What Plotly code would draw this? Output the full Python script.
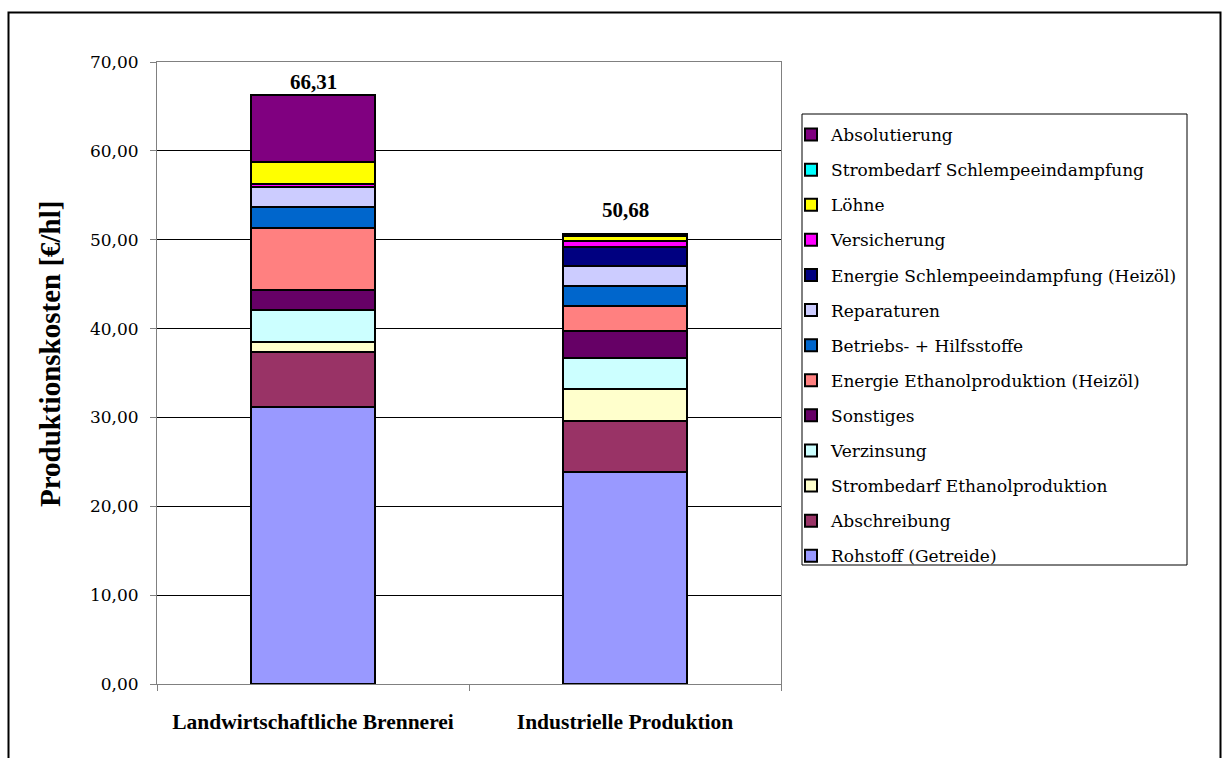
import plotly.graph_objects as go

categories = ["Landwirtschaftliche Brennerei", "Industrielle Produktion"]

# series from bottom of stack to top
series_names = [
    "Rohstoff (Getreide)",
    "Abschreibung",
    "Strombedarf Ethanolproduktion",
    "Verzinsung",
    "Sonstiges",
    "Energie Ethanolproduktion (Heizöl)",
    "Betriebs- + Hilfsstoffe",
    "Reparaturen",
    "Energie Schlempeeindampfung (Heizöl)",
    "Versicherung",
    "Löhne",
    "Strombedarf Schlempeeindampfung",
    "Absolutierung",
]
rohstoff = [31.21, 23.86]
abschreibung = [6.19, 5.74]
strom_ethanol = [1.05, 3.56]
verzinsung = [3.64, 3.56]
sonstiges = [2.25, 3.04]
energie_ethanol = [7.00, 2.78]
betriebsstoffe = [2.30, 2.28]
reparaturen = [2.30, 2.22]
energie_schlempe = [0.00, 2.14]
versicherung = [0.30, 0.67]
loehne = [2.50, 0.60]
strom_schlempe = [0.00, 0.23]
absolutierung = [7.57, 0.00]

series_values = [
    rohstoff, abschreibung, strom_ethanol, verzinsung, sonstiges,
    energie_ethanol, betriebsstoffe, reparaturen, energie_schlempe,
    versicherung, loehne, strom_schlempe, absolutierung,
]
colors = [
    "#9999FF", "#993366", "#FFFFCC", "#CCFFFF", "#660066",
    "#FF8080", "#0066CC", "#CCCCFF", "#000080",
    "#FF00FF", "#FFFF00", "#00FFFF", "#800080",
]

y_ticks = [0, 10, 20, 30, 40, 50, 60, 70]

BOLD_FONT = "Liberation Serif, Times New Roman, serif"
REG_FONT = "DejaVu Serif, Liberation Serif, serif"

fig = go.Figure()
n = len(series_names)
for i, (name, vals, col) in enumerate(zip(series_names, series_values, colors)):
    fig.add_trace(go.Bar(
        x=categories, y=vals, name=name, legendgroup=name,
        legendrank=100 + n - i,
        marker=dict(color=col, line=dict(color="black", width=2)),
        width=0.4,
    ))

totals = [round(sum(v[i] for v in series_values), 2) for i in range(len(categories))]
label_shift = [13, 24]
for cat, tot, sh in zip(categories, totals, label_shift):
    fig.add_annotation(
        x=cat, y=tot, text="<b>" + f"{tot:.2f}".replace(".", ",") + "</b>",
        showarrow=False, yanchor="middle", yshift=sh,
        font=dict(family=BOLD_FONT, size=21, color="black"),
    )

W, H = 1222, 758
L, R, T, B = 157, 781, 62, 684
pw, ph = R - L, B - T

def px(x):
    return (x - L) / pw

def py(y):
    return (B - y) / ph

# y-axis title
fig.add_annotation(
    xref="paper", yref="paper", x=px(50), y=py(354),
    text="<b>Produktionskosten [€/hl]</b>", textangle=-90,
    showarrow=False, xanchor="center", yanchor="middle",
    font=dict(family=BOLD_FONT, size=29, color="black"),
)

# outer frame
fig.add_shape(type="rect", xref="paper", yref="paper",
              x0=px(8.5), x1=px(1220.5), y0=py(790), y1=py(12.5),
              line=dict(color="black", width=2), layer="below")
# legend box
fig.add_shape(type="rect", xref="paper", yref="paper",
              x0=px(802), x1=px(1187), y0=py(565), y1=py(114),
              line=dict(color="black", width=1), layer="below")

fig.update_layout(
    width=W, height=H,
    margin=dict(l=L, r=W - R, t=T, b=H - B),
    barmode="stack",
    bargap=0.6,
    plot_bgcolor="white",
    paper_bgcolor="white",
    separators=",.",
    font=dict(family=REG_FONT, size=17, color="black"),
    showlegend=True,
    legend=dict(
        x=px(791), xanchor="left", y=py(117), yanchor="top",
        traceorder="grouped", tracegroupgap=10,
        font=dict(family=REG_FONT, size=17, color="black"),
        bgcolor="rgba(0,0,0,0)", borderwidth=0,
    ),
    xaxis=dict(
        showline=True, linecolor="#808080", linewidth=1, mirror=True,
        ticks="outside", tickson="boundaries", ticklen=6, tickcolor="#808080",
        tickfont=dict(family=BOLD_FONT, size=21.5, color="black", weight="bold"),
        ticklabelstandoff=18,
        showgrid=False,
    ),
    yaxis=dict(
        range=[0, 70], tickvals=y_ticks, tickformat=".2f",
        showline=True, linecolor="#808080", linewidth=1, mirror=True,
        ticks="outside", ticklen=6, tickcolor="#808080",
        tickfont=dict(family=REG_FONT, size=17, color="black"),
        ticklabelstandoff=8,
        showgrid=True, gridcolor="black", gridwidth=1,
        zeroline=False,
    ),
)

fig.write_html("out.html")
